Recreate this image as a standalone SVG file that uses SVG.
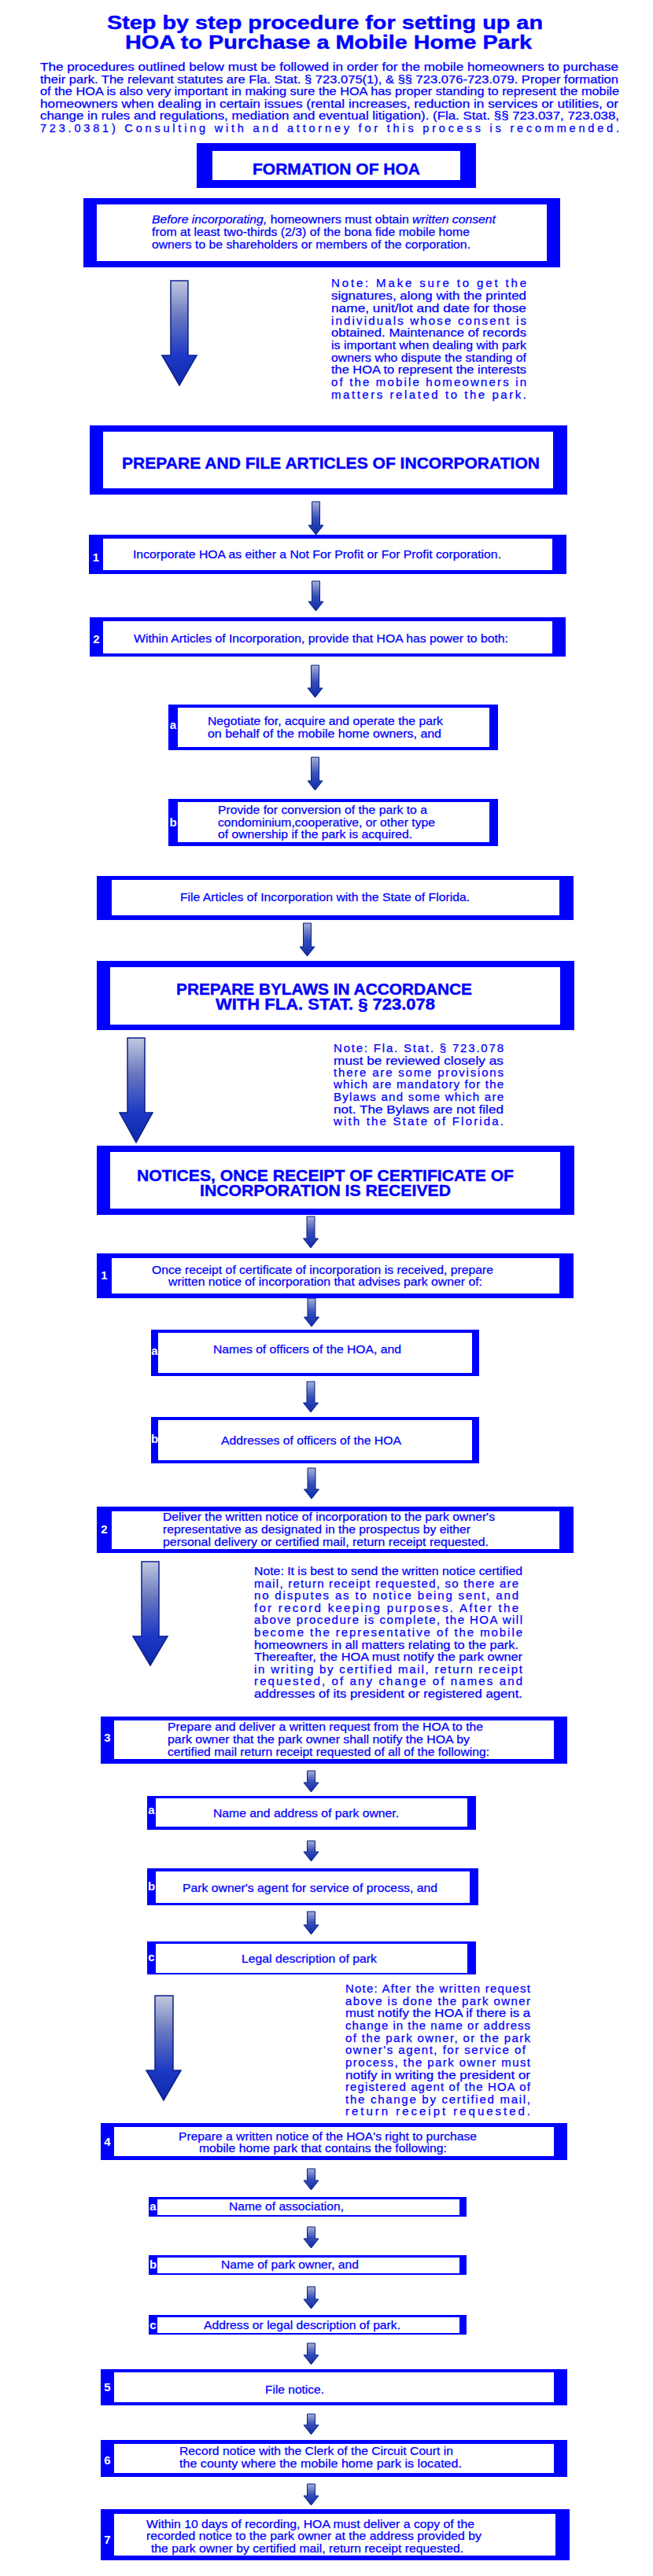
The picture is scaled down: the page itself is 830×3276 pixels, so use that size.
<svg xmlns="http://www.w3.org/2000/svg" width="830" height="3276" viewBox="0 0 830 3276" xml:space="preserve">
<style>
.t{font-family:"Liberation Sans",Arial,Helvetica,sans-serif;fill:#0000ff;stroke:#0000ff;stroke-width:0.25}
.ttl{font-size:24px;font-weight:bold;stroke-width:0.4}
.b{font-size:15px}
.ib{font-size:14.5px}
.hd{font-size:20px;font-weight:bold;stroke-width:0.4}
.lbl{font-family:"Liberation Sans",Arial,Helvetica,sans-serif;font-size:15px;font-weight:bold;fill:#ffffff;text-anchor:middle}
.fr{fill:#0000ff}
.in{fill:#ffffff}
.big{fill:url(#gBig);stroke:#0b1f8a;stroke-width:1.5}
.sm{fill:url(#gSm);stroke:#0b1f8a;stroke-width:1}
</style>
<defs>
<linearGradient id="gBig" x1="0" y1="0" x2="0" y2="1">
<stop offset="0" stop-color="#c2c8de"/>
<stop offset="0.35" stop-color="#6676be"/>
<stop offset="0.72" stop-color="#1c38c6"/>
<stop offset="1" stop-color="#0e2aa8"/>
</linearGradient>
<linearGradient id="gSm" x1="0" y1="0" x2="0" y2="1">
<stop offset="0" stop-color="#a8b0d4"/>
<stop offset="0.5" stop-color="#3550b8"/>
<stop offset="1" stop-color="#0e2aa8"/>
</linearGradient>
</defs>
<rect width="830" height="3276" fill="#ffffff"/>

<g id="title">
<text class="t ttl" x="136" y="37" textLength="554" lengthAdjust="spacingAndGlyphs">Step by step procedure for setting up an</text>
<text class="t ttl" x="159" y="62" textLength="517" lengthAdjust="spacingAndGlyphs">HOA to Purchase a Mobile Home Park</text>
</g>

<g id="intro">
<text class="t ib" x="51" y="90" textLength="735" lengthAdjust="spacingAndGlyphs">The procedures outlined below must be followed in order for the mobile homeowners to purchase</text>
<text class="t ib" x="51" y="105.5" textLength="735" lengthAdjust="spacingAndGlyphs">their park.  The relevant statutes are Fla. Stat. § 723.075(1), &amp; §§ 723.076-723.079.  Proper formation</text>
<text class="t ib" x="51" y="121" textLength="736" lengthAdjust="spacingAndGlyphs">of the HOA is also very important in making sure the HOA has proper standing to represent the mobile</text>
<text class="t ib" x="51" y="136.5" textLength="735" lengthAdjust="spacingAndGlyphs">homeowners when dealing in certain issues (rental increases, reduction in services or utilities, or</text>
<text class="t ib" x="51" y="152" textLength="736" lengthAdjust="spacingAndGlyphs">change in rules and regulations, mediation and eventual litigation). (Fla. Stat. §§ 723.037, 723.038,</text>
<text class="t ib" x="51" y="167.5" textLength="736" lengthAdjust="spacing">723.0381) Consulting with and attorney for this process is recommended.</text>
</g>

<g id="connectors">
<path class="big" d="M217,357 H239 V452 H250 L228,490 L206,452 H217 Z"/>
<path class="sm" d="M396.5,638 H406.5 V668 H411 L401.5,680 L392,668 H396.5 Z"/>
<path class="sm" d="M396.5,739 H406.5 V765 H411 L401.5,777 L392,765 H396.5 Z"/>
<path class="sm" d="M395.5,846 H405.5 V875 H410 L400.5,887 L391,875 H395.5 Z"/>
<path class="sm" d="M395.5,963 H405.5 V993 H410 L400.5,1005 L391,993 H395.5 Z"/>
<path class="sm" d="M385.5,1174 H395.5 V1204 H400 L390.5,1216 L381,1204 H385.5 Z"/>
<path class="big" d="M162,1320 H184 V1415 H194 L173,1453 L152,1415 H162 Z"/>
<path class="sm" d="M390,1547 H400 V1575 H404.5 L395,1587 L385.5,1575 H390 Z"/>
<path class="sm" d="M391,1651 H401 V1675 H405.5 L396,1687 L386.5,1675 H391 Z"/>
<path class="sm" d="M390,1757 H400 V1784 H404.5 L395,1796 L385.5,1784 H390 Z"/>
<path class="sm" d="M391,1867 H401 V1894 H405.5 L396,1906 L386.5,1894 H391 Z"/>
<path class="big" d="M180,1986 H202 V2081 H213 L191,2118 L169,2081 H180 Z"/>
<path class="sm" d="M390.5,2252 H400.5 V2267 H405 L395.5,2279 L386,2267 H390.5 Z"/>
<path class="sm" d="M390.5,2341 H400.5 V2355 H405 L395.5,2367 L386,2355 H390.5 Z"/>
<path class="sm" d="M390.5,2431 H400.5 V2448 H405 L395.5,2460 L386,2448 H390.5 Z"/>
<path class="big" d="M197,2538 H220 V2633 H230 L208,2671 L186,2633 H197 Z"/>
<path class="sm" d="M390.5,2758 H400.5 V2773 H405 L395.5,2785 L386,2773 H390.5 Z"/>
<path class="sm" d="M390.5,2832 H400.5 V2847 H405 L395.5,2859 L386,2847 H390.5 Z"/>
<path class="sm" d="M390.5,2908 H400.5 V2924 H405 L395.5,2936 L386,2924 H390.5 Z"/>
<path class="sm" d="M390.5,2980 H400.5 V2995 H405 L395.5,3007 L386,2995 H390.5 Z"/>
<path class="sm" d="M390.5,3070 H400.5 V3084 H405 L395.5,3096 L386,3084 H390.5 Z"/>
<path class="sm" d="M390.5,3159 H400.5 V3174 H405 L395.5,3186 L386,3174 H390.5 Z"/>
</g>

<g id="formation">
<rect class="fr" x="250" y="182" width="355" height="57"/>
<rect class="in" x="270" y="192" width="315" height="37"/>
<text class="t hd" x="321" y="222" textLength="213" lengthAdjust="spacingAndGlyphs">FORMATION OF HOA</text>
</g>

<g id="consent">
<rect class="fr" x="106" y="252" width="606" height="88"/>
<rect class="in" x="123" y="260" width="572" height="72"/>
<text class="t b" x="193" y="284" textLength="437" lengthAdjust="spacingAndGlyphs"><tspan font-style="italic">Before incorporating,</tspan> homeowners must obtain <tspan font-style="italic">written consent</tspan></text>
<text class="t b" x="193" y="300" textLength="404" lengthAdjust="spacingAndGlyphs">from at least two-thirds (2/3) of the bona fide mobile home</text>
<text class="t b" x="193" y="315.5" textLength="405" lengthAdjust="spacingAndGlyphs">owners to be shareholders or members of the corporation.</text>
</g>

<g id="note1">
<text class="t b" x="421" y="365" textLength="248" lengthAdjust="spacing">Note:  Make sure to get the</text>
<text class="t b" x="421" y="381" textLength="248" lengthAdjust="spacingAndGlyphs">signatures, along with the printed</text>
<text class="t b" x="421" y="397" textLength="248" lengthAdjust="spacingAndGlyphs">name, unit/lot and date for those</text>
<text class="t b" x="421" y="412.5" textLength="248" lengthAdjust="spacing">individuals whose consent is</text>
<text class="t b" x="421" y="428" textLength="248" lengthAdjust="spacingAndGlyphs">obtained.  Maintenance of records</text>
<text class="t b" x="421" y="444" textLength="248" lengthAdjust="spacingAndGlyphs">is important when dealing with park</text>
<text class="t b" x="421" y="459.5" textLength="248" lengthAdjust="spacingAndGlyphs">owners who dispute the standing of</text>
<text class="t b" x="421" y="475" textLength="248" lengthAdjust="spacingAndGlyphs">the HOA to represent the interests</text>
<text class="t b" x="421" y="491" textLength="248" lengthAdjust="spacing">of the mobile homeowners in</text>
<text class="t b" x="421" y="506.5" textLength="248" lengthAdjust="spacing">matters related to the park.</text>
</g>

<g id="articles">
<rect class="fr" x="114" y="541" width="607" height="88"/>
<rect class="in" x="131" y="549" width="572" height="72"/>
<text class="t hd" x="155" y="596" textLength="531" lengthAdjust="spacingAndGlyphs">PREPARE AND FILE ARTICLES OF INCORPORATION</text>
</g>

<g id="art-1">
<rect class="fr" x="113" y="680" width="607" height="50"/>
<rect class="in" x="131" y="685" width="571" height="40"/>
<text class="lbl" x="122" y="714">1</text>
<text class="t b" x="169" y="710" textLength="468" lengthAdjust="spacingAndGlyphs">Incorporate HOA as either a Not For Profit or For Profit corporation.</text>
</g>

<g id="art-2">
<rect class="fr" x="114" y="785" width="605" height="50"/>
<rect class="in" x="131" y="790" width="571" height="41"/>
<text class="lbl" x="122.5" y="818">2</text>
<text class="t b" x="170" y="817" textLength="476" lengthAdjust="spacingAndGlyphs">Within Articles of Incorporation, provide that HOA has power to both:</text>
</g>

<g id="art-2a">
<rect class="fr" x="214" y="896" width="419" height="58"/>
<rect class="in" x="226" y="900" width="396" height="50"/>
<text class="lbl" x="220" y="927">a</text>
<text class="t b" x="264" y="922" textLength="299" lengthAdjust="spacingAndGlyphs">Negotiate for, acquire and operate the park</text>
<text class="t b" x="264" y="937.5" textLength="297" lengthAdjust="spacingAndGlyphs">on behalf of the mobile home owners,  and</text>
</g>

<g id="art-2b">
<rect class="fr" x="214" y="1016" width="419" height="60"/>
<rect class="in" x="226" y="1020" width="396" height="51"/>
<text class="lbl" x="220" y="1051">b</text>
<text class="t b" x="277" y="1035" textLength="266" lengthAdjust="spacingAndGlyphs">Provide for conversion of the park to a</text>
<text class="t b" x="277" y="1051" textLength="276" lengthAdjust="spacingAndGlyphs">condominium,cooperative, or other type</text>
<text class="t b" x="277" y="1066" textLength="247" lengthAdjust="spacingAndGlyphs">of ownership if the park is acquired.</text>
</g>

<g id="file-articles">
<rect class="fr" x="123" y="1114" width="606" height="56"/>
<rect class="in" x="142" y="1119" width="569" height="45"/>
<text class="t b" x="229" y="1146" textLength="368" lengthAdjust="spacingAndGlyphs">File Articles of Incorporation with the State of Florida.</text>
</g>

<g id="bylaws">
<rect class="fr" x="123" y="1222" width="607" height="88"/>
<rect class="in" x="140" y="1230" width="572" height="73"/>
<text class="t hd" x="224" y="1265" textLength="376" lengthAdjust="spacingAndGlyphs">PREPARE BYLAWS IN ACCORDANCE</text>
<text class="t hd" x="274" y="1284" textLength="279" lengthAdjust="spacingAndGlyphs">WITH FLA. STAT. § 723.078</text>
</g>

<g id="note2">
<text class="t b" x="424" y="1338" textLength="216" lengthAdjust="spacing">Note:  Fla. Stat. § 723.078</text>
<text class="t b" x="424" y="1354" textLength="216" lengthAdjust="spacingAndGlyphs">must be reviewed closely as</text>
<text class="t b" x="424" y="1369" textLength="216" lengthAdjust="spacing">there are some provisions</text>
<text class="t b" x="424" y="1384" textLength="216" lengthAdjust="spacing">which are mandatory for the</text>
<text class="t b" x="424" y="1400" textLength="216" lengthAdjust="spacing">Bylaws and some which are</text>
<text class="t b" x="424" y="1416" textLength="216" lengthAdjust="spacingAndGlyphs">not.  The Bylaws are not filed</text>
<text class="t b" x="424" y="1431" textLength="216" lengthAdjust="spacing">with the State of Florida.</text>
</g>

<g id="notices">
<rect class="fr" x="123" y="1457" width="607" height="88"/>
<rect class="in" x="140" y="1465" width="572" height="72"/>
<text class="t hd" x="174" y="1502" textLength="479" lengthAdjust="spacingAndGlyphs">NOTICES, ONCE RECEIPT OF CERTIFICATE OF</text>
<text class="t hd" x="254" y="1521" textLength="319" lengthAdjust="spacingAndGlyphs">INCORPORATION IS RECEIVED</text>
</g>

<g id="notice-1">
<rect class="fr" x="123" y="1594" width="606" height="57"/>
<rect class="in" x="142" y="1600" width="569" height="45"/>
<text class="lbl" x="132.5" y="1627">1</text>
<text class="t b" x="193" y="1620" textLength="434" lengthAdjust="spacingAndGlyphs">Once receipt of certificate of incorporation is received, prepare</text>
<text class="t b" x="214" y="1635" textLength="399" lengthAdjust="spacingAndGlyphs">written notice of incorporation that advises park owner of:</text>
</g>

<g id="notice-1a">
<rect class="fr" x="192" y="1691" width="417" height="59"/>
<rect class="in" x="201" y="1695" width="399" height="51"/>
<text class="lbl" x="196.5" y="1723">a</text>
<text class="t b" x="271" y="1721" textLength="239" lengthAdjust="spacingAndGlyphs">Names of officers of the HOA, and</text>
</g>

<g id="notice-1b">
<rect class="fr" x="192" y="1802" width="417" height="59"/>
<rect class="in" x="201" y="1806" width="399" height="51"/>
<text class="lbl" x="196.5" y="1835">b</text>
<text class="t b" x="281" y="1837" textLength="229" lengthAdjust="spacingAndGlyphs">Addresses of officers of the HOA</text>
</g>

<g id="notice-2">
<rect class="fr" x="123" y="1916" width="606" height="59"/>
<rect class="in" x="142" y="1922" width="569" height="48"/>
<text class="lbl" x="132.5" y="1950">2</text>
<text class="t b" x="207" y="1934" textLength="422" lengthAdjust="spacingAndGlyphs">Deliver the written notice of incorporation to the park owner's</text>
<text class="t b" x="207" y="1950" textLength="391" lengthAdjust="spacingAndGlyphs">representative as designated in the prospectus by either</text>
<text class="t b" x="207" y="1966" textLength="414" lengthAdjust="spacingAndGlyphs">personal  delivery or certified mail, return receipt requested.</text>
</g>

<g id="note3">
<text class="t b" x="323" y="2003" textLength="341" lengthAdjust="spacingAndGlyphs">Note: It is best to send the written notice certified</text>
<text class="t b" x="323" y="2018.5" textLength="336" lengthAdjust="spacing">mail, return receipt requested, so there are</text>
<text class="t b" x="323" y="2034" textLength="336" lengthAdjust="spacing">no disputes as to notice being sent, and</text>
<text class="t b" x="323" y="2050" textLength="336" lengthAdjust="spacing">for record keeping purposes.    After the</text>
<text class="t b" x="323" y="2065" textLength="341" lengthAdjust="spacing">above procedure is complete, the HOA will</text>
<text class="t b" x="323" y="2081" textLength="341" lengthAdjust="spacing">become the representative of the mobile</text>
<text class="t b" x="323" y="2097" textLength="336" lengthAdjust="spacingAndGlyphs">homeowners in all matters relating to the park.</text>
<text class="t b" x="323" y="2112" textLength="341" lengthAdjust="spacingAndGlyphs">Thereafter, the HOA must notify the park owner</text>
<text class="t b" x="323" y="2128" textLength="341" lengthAdjust="spacing">in writing by certified mail, return receipt</text>
<text class="t b" x="323" y="2143" textLength="341" lengthAdjust="spacing">requested, of any change of names and</text>
<text class="t b" x="323" y="2159" textLength="341" lengthAdjust="spacingAndGlyphs">addresses of its president or registered agent.</text>
</g>

<g id="notice-3">
<rect class="fr" x="128" y="2183" width="593" height="60"/>
<rect class="in" x="145" y="2188" width="559" height="49"/>
<text class="lbl" x="136.5" y="2215">3</text>
<text class="t b" x="213" y="2201" textLength="401" lengthAdjust="spacingAndGlyphs">Prepare and deliver a written request from the HOA to the</text>
<text class="t b" x="213" y="2217" textLength="384" lengthAdjust="spacingAndGlyphs">park owner  that the park owner shall notify the HOA by</text>
<text class="t b" x="213" y="2233" textLength="409" lengthAdjust="spacingAndGlyphs">certified mail return receipt requested of all of the following:</text>
</g>

<g id="notice-3a">
<rect class="fr" x="187" y="2284" width="418" height="43"/>
<rect class="in" x="198" y="2287" width="396" height="36"/>
<text class="lbl" x="192.5" y="2307">a</text>
<text class="t b" x="271" y="2311" textLength="236" lengthAdjust="spacingAndGlyphs">Name and address of park owner.</text>
</g>

<g id="notice-3b">
<rect class="fr" x="187" y="2376" width="421" height="47"/>
<rect class="in" x="198" y="2380" width="399" height="40"/>
<text class="lbl" x="192.5" y="2404">b</text>
<text class="t b" x="232" y="2406" textLength="324" lengthAdjust="spacingAndGlyphs">Park owner's agent for service of process, and</text>
</g>

<g id="notice-3c">
<rect class="fr" x="187" y="2469" width="418" height="42"/>
<rect class="in" x="198" y="2472" width="396" height="37"/>
<text class="lbl" x="192.5" y="2494">c</text>
<text class="t b" x="307" y="2496" textLength="172" lengthAdjust="spacingAndGlyphs">Legal description of park</text>
</g>

<g id="note4">
<text class="t b" x="439" y="2534" textLength="235" lengthAdjust="spacing">Note:  After the written request</text>
<text class="t b" x="439" y="2550" textLength="235" lengthAdjust="spacing">above is done the park owner</text>
<text class="t b" x="439" y="2565" textLength="235" lengthAdjust="spacingAndGlyphs">must notify the HOA if there is a</text>
<text class="t b" x="439" y="2581" textLength="235" lengthAdjust="spacing">change in the name or address</text>
<text class="t b" x="439" y="2597" textLength="235" lengthAdjust="spacing">of the park owner, or the park</text>
<text class="t b" x="439" y="2612" textLength="229" lengthAdjust="spacing">owner's agent, for service of</text>
<text class="t b" x="439" y="2628" textLength="235" lengthAdjust="spacing">process, the park owner must</text>
<text class="t b" x="439" y="2644" textLength="235" lengthAdjust="spacingAndGlyphs">notify in writing the president or</text>
<text class="t b" x="439" y="2659" textLength="235" lengthAdjust="spacing">registered agent of the HOA of</text>
<text class="t b" x="439" y="2675" textLength="235" lengthAdjust="spacing">the change by certified mail,</text>
<text class="t b" x="439" y="2690" textLength="235" lengthAdjust="spacing">return receipt requested.</text>
</g>

<g id="notice-4">
<rect class="fr" x="128" y="2700" width="593" height="47"/>
<rect class="in" x="145" y="2705" width="559" height="37"/>
<text class="lbl" x="136.5" y="2729">4</text>
<text class="t b" x="227" y="2722" textLength="379" lengthAdjust="spacingAndGlyphs">Prepare a written notice of the HOA's right to purchase</text>
<text class="t b" x="253" y="2737" textLength="315" lengthAdjust="spacingAndGlyphs">mobile home park that contains the following:</text>
</g>

<g id="notice-4a">
<rect class="fr" x="189" y="2794" width="404" height="25"/>
<rect class="in" x="200" y="2797" width="384" height="20"/>
<text class="lbl" x="194.5" y="2811">a</text>
<text class="t b" x="291" y="2811" textLength="146" lengthAdjust="spacingAndGlyphs">Name of association,</text>
</g>

<g id="notice-4b">
<rect class="fr" x="189" y="2868" width="404" height="25"/>
<rect class="in" x="200" y="2871" width="384" height="20"/>
<text class="lbl" x="194.5" y="2885">b</text>
<text class="t b" x="281" y="2885" textLength="175" lengthAdjust="spacingAndGlyphs">Name of park owner, and</text>
</g>

<g id="notice-4c">
<rect class="fr" x="189" y="2944" width="404" height="25"/>
<rect class="in" x="200" y="2947" width="384" height="20"/>
<text class="lbl" x="194.5" y="2962">c</text>
<text class="t b" x="259" y="2962" textLength="250" lengthAdjust="spacingAndGlyphs">Address or legal description of park.</text>
</g>

<g id="notice-5">
<rect class="fr" x="128" y="3013" width="593" height="46"/>
<rect class="in" x="145" y="3017" width="559" height="38"/>
<text class="lbl" x="136.5" y="3041">5</text>
<text class="t b" x="337" y="3044" textLength="75" lengthAdjust="spacingAndGlyphs">File notice.</text>
</g>

<g id="notice-6">
<rect class="fr" x="128" y="3103" width="593" height="47"/>
<rect class="in" x="145" y="3108" width="559" height="37"/>
<text class="lbl" x="136.5" y="3134">6</text>
<text class="t b" x="228" y="3122" textLength="348" lengthAdjust="spacingAndGlyphs">Record notice with the Clerk of the Circuit Court in</text>
<text class="t b" x="228" y="3138" textLength="359" lengthAdjust="spacingAndGlyphs">the  county  where the mobile home park is located.</text>
</g>

<g id="notice-7">
<rect class="fr" x="128" y="3191" width="596" height="65"/>
<rect class="in" x="145" y="3197" width="561" height="53"/>
<text class="lbl" x="136.5" y="3235">7</text>
<text class="t b" x="186" y="3215" textLength="417" lengthAdjust="spacingAndGlyphs">Within 10 days of recording, HOA must deliver a copy of the</text>
<text class="t b" x="186" y="3230" textLength="426" lengthAdjust="spacingAndGlyphs">recorded notice to the park owner at the address provided by</text>
<text class="t b" x="192" y="3246" textLength="397" lengthAdjust="spacingAndGlyphs">the park owner by certified mail, return receipt requested.</text>
</g>
</svg>
